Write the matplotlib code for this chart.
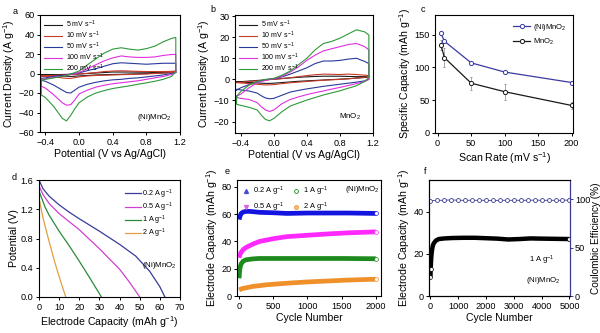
import numpy as np
import matplotlib
matplotlib.use("Agg")
import matplotlib.pyplot as plt
from matplotlib.lines import Line2D

plt.rcParams['font.family'] = ['Liberation Sans', 'DejaVu Sans']
plt.rcParams['mathtext.fontset'] = 'custom'
plt.rcParams['mathtext.rm'] = 'Liberation Sans'
plt.rcParams['mathtext.it'] = 'Liberation Sans:italic'
plt.rcParams['mathtext.default'] = 'regular'
plt.rcParams['axes.linewidth'] = 0.8

# ---------------- data ----------------
# cyclic voltammetry: potential grid and anodic / cathodic currents (A g-1)
cv_potential = [-0.45, -0.4, -0.3, -0.2, -0.15, -0.1, -0.05, 0.0, 0.1, 0.2,
                0.3, 0.4, 0.5, 0.6, 0.7, 0.8, 0.9, 1.0, 1.1, 1.15]
scan_labels = ['5 mV s$^{-1}$', '10 mV s$^{-1}$', '50 mV s$^{-1}$',
               '100 mV s$^{-1}$', '200 mV s$^{-1}$']

ni_anodic_5 = [-1.5, -1.4, -1.2, -1, -0.9, -0.8, -0.6, -0.5, 0, 0.5, 1, 1.5, 1.5, 1.5, 1.4, 1.3, 1.2, 1.2, 1.3, 1.5]
ni_cathodic_5 = [-1.5, -1.7, -2, -2.5, -2.8, -3, -2.8, -2.5, -2, -1.5, -1.2, -1, -0.8, -0.5, -0.3, -0.1, 0.2, 0.5, 0.8, 1]
ni_anodic_10 = [-2.5, -2.3, -2, -1.5, -1.2, -1, -0.8, -0.5, 0.2, 1, 2, 2.5, 2.8, 2.5, 2.2, 2, 2, 2, 2.2, 2.5]
ni_cathodic_10 = [-2.5, -2.8, -3.5, -4.5, -5, -5, -4.2, -3.5, -2.5, -2, -1.8, -1.5, -1.2, -1, -0.8, -0.5, 0, 0.5, 1, 1.5]
ni_anodic_50 = [-5, -4.5, -3, -2, -1.5, -0.5, 0, 0.5, 3, 5, 7.5, 10, 11, 10.5, 10, 9.5, 10, 10.5, 10.5, 10.5]
ni_cathodic_50 = [-7, -8, -12, -17, -19.5, -20, -17, -14, -11, -9, -7.5, -6.5, -6, -5, -4.5, -3.5, -2.5, -1.5, 0, 1]
ni_anodic_100 = [-6, -5.5, -4, -3, -2, -1, 0, 1, 5, 9, 13, 16, 18, 17, 16.5, 16.5, 17, 18.5, 19.5, 19.5]
ni_cathodic_100 = [-13, -15, -22, -30, -32.5, -32, -27, -21, -17, -14, -12, -10.5, -9.5, -8.5, -7.5, -6, -4.5, -3, -1, 1]
ni_anodic_200 = [-7, -6, -4.5, -3, -2, -0.5, 1, 2.5, 9, 15, 21, 25, 26.4, 25, 24, 25.5, 28, 32.5, 36, 37]
ni_cathodic_200 = [-22, -24.7, -34, -46, -48.6, -43, -36, -30, -24, -20, -17.5, -15.4, -14, -12.7, -11, -9.6, -8, -6, -3, 2]

mn_anodic_5 = [-1.2, -1.1, -0.8, -0.5, -0.4, -0.2, 0, 0.1, 0.4, 0.7, 1, 1.2, 1.4, 1.5, 1.5, 1.5, 1.4, 1.3, 1.3, 1.5]
mn_cathodic_5 = [-1.2, -1.3, -1.5, -1.7, -1.8, -1.9, -1.9, -1.8, -1.5, -1.2, -0.9, -0.7, -0.5, -0.3, -0.1, 0.1, 0.3, 0.6, 0.9, 1.2]
mn_anodic_10 = [-1.5, -1.4, -1, -0.7, -0.5, -0.3, -0.1, 0, 0.4, 0.8, 1.3, 1.8, 2.2, 2.5, 2.4, 2.3, 2.5, 2.3, 2, 1.8]
mn_cathodic_10 = [-1.5, -1.7, -2, -2.3, -2.5, -2.6, -2.6, -2.5, -2, -1.6, -1.3, -1, -0.7, -0.4, -0.2, 0, 0.3, 0.6, 1, 1.5]
mn_anodic_50 = [-5, -4, -2.5, -1, -0.6, -0.3, 0, 0.3, 1.2, 2.5, 4, 5.5, 7.5, 8.7, 8.7, 9, 9.6, 10, 8.5, 7.5]
mn_cathodic_50 = [-4.7, -5, -5.5, -6.5, -7.8, -8.8, -9.2, -9, -7.5, -6, -5.2, -4.5, -3.9, -3.3, -2.8, -2.3, -1.8, -1.3, -0.7, 0]
mn_anodic_100 = [-8, -7, -4, -1.5, -1, -0.5, 0, 0.3, 1.5, 3.5, 6, 9, 11.5, 13.5, 14.5, 15.5, 16.5, 17, 15.5, 14]
mn_cathodic_100 = [-8.5, -9, -9.5, -11, -13, -14.5, -15.2, -14.5, -11.5, -9.5, -8.3, -7.2, -6.3, -5.5, -4.6, -3.8, -2.9, -2, -1, 0]
mn_anodic_200 = [-8, -5.8, -2.7, -1, -0.5, 0, 0.3, 0.5, 2, 4, 7, 10, 14, 17, 18, 19.5, 21.5, 23.5, 22.5, 21]
mn_cathodic_200 = [-11.8, -12.3, -13.2, -14.5, -17, -19, -19.6, -18.5, -15.3, -12.6, -11.2, -9.8, -8.6, -7.4, -6.4, -5.4, -4.2, -3, -1, 1]

# specific capacity vs scan rate
scan_rate = [5, 10, 50, 100, 200]
cap_ni = [152, 140, 107, 93, 77]
cap_ni_err = [3, 3, 2, 2, 2]
cap_mn = [134, 115, 76, 63, 42]
cap_mn_err = [8, 15, 10, 12, 5]

# galvanostatic discharge curves
gcd_labels = ['0.2 A g$^{-1}$', '0.5 A g$^{-1}$', '1 A g$^{-1}$', '2 A g$^{-1}$']
dis_cap_02 = [0, 2, 5, 10, 15, 20, 30, 40, 48, 55, 60, 62.5]
dis_v_02 = [1.6, 1.48, 1.38, 1.26, 1.16, 1.07, 0.9, 0.72, 0.56, 0.35, 0.14, 0]
dis_cap_05 = [0, 2, 5, 10, 15, 20, 30, 40, 45, 50]
dis_v_05 = [1.52, 1.4, 1.28, 1.14, 1.03, 0.92, 0.66, 0.38, 0.2, 0]
dis_cap_1 = [0, 3, 5, 10, 15, 20, 25, 31]
dis_v_1 = [1.45, 1.23, 1.12, 0.9, 0.7, 0.49, 0.27, 0]
dis_cap_2 = [0, 2, 5, 8, 11, 13.3]
dis_v_2 = [1.35, 1.08, 0.76, 0.46, 0.19, 0]

# cycling at different current densities
cyc_02 = [1, 10, 30, 60, 100, 150, 200, 300, 500, 700, 1000, 1300, 1600, 2000]
ret_02 = [56, 58, 60.5, 61.5, 62, 62, 61.8, 61.3, 61, 60.5, 60.8, 60.8, 60.8, 60.5]
cyc_05 = [1, 10, 30, 60, 100, 200, 300, 500, 700, 1000, 1300, 1600, 2000]
ret_05 = [28, 30, 32, 34, 35.5, 38, 40, 42, 43.5, 44.5, 45.5, 46.3, 47]
cyc_1 = [1, 5, 15, 30, 60, 100, 200, 300, 500, 1000, 1500, 2000]
ret_1 = [13, 17, 21, 23.5, 25.5, 26.5, 27.2, 27.5, 27.5, 27.5, 27.5, 27.3]
cyc_2 = [1, 50, 100, 200, 400, 600, 800, 1000, 1300, 1600, 2000]
ret_2 = [4.5, 5.5, 6, 7, 8.2, 9, 9.7, 10.3, 11, 11.7, 12.3]

# long-term cycling at 1 A g-1
long_cyc = [1, 10, 30, 50, 80, 120, 200, 300, 500, 800, 1200, 1600, 2000, 2400, 2800, 3200, 3600, 4000, 4500, 5000]
long_cap = [9, 13, 18, 21, 23.5, 25, 26.3, 27, 27.3, 27.5, 27.6, 27.6, 27.4, 27.2, 26.8, 27.0, 27.3, 27.2, 27.1, 27]
ce_cyc = list(range(0, 5001, 250))
ce_val = [98.5, 99, 99, 99.5, 99, 99, 99, 99, 99, 98.8, 99, 99, 99, 99, 99, 99.2, 99, 99, 99, 99, 99.3]

# ---------------- figure ----------------
W, H = 600, 333
fig = plt.figure(figsize=(6, 3.33), dpi=100)


def box(l, t, r, b):
    return [l / W, 1 - b / H, (r - l) / W, (b - t) / H]


TICK = 6.6
LAB = 7.6
LEG = 5.2


def style(ax):
    ax.tick_params(direction='out', length=2.5, width=0.7, labelsize=TICK, pad=1.5)


cv_colors = ['#1a1a1a', '#c83a2a', '#2a3a9a', '#e030e0', '#2e9a3a']


def draw_cv(ax, anodic, cathodic):
    E = np.array(cv_potential)
    for a, c, col, lab in zip(anodic, cathodic, cv_colors, scan_labels):
        x = np.concatenate([E, E[::-1], E[:1]])
        y = np.concatenate([a, c[::-1], a[:1]])
        ax.plot(x, y, color=col, lw=0.8, label=lab)
    leg = ax.legend(loc='upper left', frameon=False, fontsize=LEG - 0.1, handlelength=2.6,
                    handletextpad=0.5, labelspacing=-0.05, borderaxespad=0.15,
                    bbox_to_anchor=(0.0, 1.0))
    return leg


# panel a
ax_a = fig.add_axes(box(40, 15, 180, 132))
draw_cv(ax_a,
        [ni_anodic_5, ni_anodic_10, ni_anodic_50, ni_anodic_100, ni_anodic_200],
        [ni_cathodic_5, ni_cathodic_10, ni_cathodic_50, ni_cathodic_100, ni_cathodic_200])
ax_a.set_xlim(-0.465, 1.2)
ax_a.set_ylim(-60, 60)
ax_a.set_xticks([-0.4, 0.0, 0.4, 0.8, 1.2])
ax_a.set_yticks(range(-60, 61, 20))
ax_a.set_xlabel('Potential (V vs Ag/AgCl)', fontsize=LAB, labelpad=2)
ax_a.set_ylabel('Current Density (A g$^{-1}$)', fontsize=LAB, labelpad=1)
ax_a.text(0.82, 0.12, '(Ni)MnO$_2$', transform=ax_a.transAxes, fontsize=LEG + 0.5,
          ha='center', va='center')
style(ax_a)

# panel b
ax_b = fig.add_axes(box(235, 15, 373, 133))
draw_cv(ax_b,
        [mn_anodic_5, mn_anodic_10, mn_anodic_50, mn_anodic_100, mn_anodic_200],
        [mn_cathodic_5, mn_cathodic_10, mn_cathodic_50, mn_cathodic_100, mn_cathodic_200])
ax_b.set_xlim(-0.469, 1.2)
ax_b.set_ylim(-25.4, 30.5)
ax_b.set_xticks([-0.4, 0.0, 0.4, 0.8, 1.2])
ax_b.set_yticks(range(-20, 31, 10))
ax_b.set_xlabel('Potential (V vs Ag/AgCl)', fontsize=LAB, labelpad=2)
ax_b.set_ylabel('Current Density (A g$^{-1}$)', fontsize=LAB, labelpad=1)
ax_b.text(0.83, 0.14, 'MnO$_2$', transform=ax_b.transAxes, fontsize=LEG + 0.5,
          ha='center', va='center')
style(ax_b)

# panel c
ax_c = fig.add_axes(box(435, 15, 573, 133))
ax_c.errorbar(scan_rate, cap_ni, yerr=cap_ni_err, color='#3a3aa0', ecolor='#9a9a9a',
              elinewidth=0.6, capsize=1.0, capthick=0.6, lw=0.9, marker='o', ms=3,
              mfc='white', mec='#3a3aa0', mew=0.7, label='(Ni)MnO$_2$')
ax_c.errorbar(scan_rate, cap_mn, yerr=cap_mn_err, color='#1a1a1a', ecolor='#9a9a9a',
              elinewidth=0.6, capsize=1.0, capthick=0.6, lw=0.9, marker='o', ms=3,
              mfc='white', mec='#1a1a1a', mew=0.7, label='MnO$_2$')
ax_c.set_xlim(-4, 202)
ax_c.set_ylim(0, 180)
ax_c.set_xticks(range(0, 201, 50))
ax_c.set_yticks([0, 50, 100, 150])
ax_c.set_xlabel('Scan Rate (mV s$^{-1}$)', fontsize=LAB, labelpad=2)
ax_c.set_ylabel('Specific Capacity (mAh g$^{-1}$)', fontsize=LAB, labelpad=1)
hc = [Line2D([], [], color='#3a3aa0', lw=0.9, marker='o', ms=3, mfc='white', mew=0.7),
      Line2D([], [], color='#1a1a1a', lw=0.9, marker='o', ms=3, mfc='white', mew=0.7)]
ax_c.legend(hc, ['(Ni)MnO$_2$', 'MnO$_2$'], loc='upper right', frameon=False,
            fontsize=LEG + 0.3, handlelength=2.2, handletextpad=0.3, labelspacing=0.5,
            borderaxespad=0.5)
style(ax_c)

# panel d
ax_d = fig.add_axes(box(39, 180, 180, 297))
gcd_colors = ['#3a3a9a', '#d040d0', '#2a8a3a', '#e0a040']
for cx, vy, col, lab in zip([dis_cap_02, dis_cap_05, dis_cap_1, dis_cap_2],
                            [dis_v_02, dis_v_05, dis_v_1, dis_v_2], gcd_colors, gcd_labels):
    ax_d.plot(cx, vy, color=col, lw=0.9, label=lab)
ax_d.set_xlim(0, 70)
ax_d.set_ylim(0, 1.6)
ax_d.set_xticks(range(0, 71, 10))
ax_d.set_yticks([0.0, 0.4, 0.8, 1.2, 1.6])
ax_d.set_yticklabels(['0.0', '0.4', '0.8', '1.2', '1.6'])
ax_d.set_xlabel('Electrode Capacity (mAh g$^{-1}$)', fontsize=LAB, labelpad=2)
ax_d.set_ylabel('Potential (V)', fontsize=LAB, labelpad=1)
ax_d.legend(loc='upper right', frameon=False, fontsize=LEG, handlelength=2.2,
            handletextpad=0.2, labelspacing=0.0, borderaxespad=0.6)
ax_d.text(0.85, 0.27, '(Ni)MnO$_2$', transform=ax_d.transAxes, fontsize=LEG + 0.5,
          ha='center', va='center')
style(ax_d)

# panel e
ax_e = fig.add_axes(box(237, 180, 381, 296))
e_series = [(cyc_02, ret_02, '#1414e0'),
            (cyc_05, ret_05, '#ff28ff'),
            (cyc_1, ret_1, '#1c8a1c'),
            (cyc_2, ret_2, '#f0902a')]
for cx, ry, col in e_series:
    ax_e.plot(cx, ry, color=col, lw=3.4, solid_capstyle='butt', solid_joinstyle='round')
    ax_e.plot(cx[-1:], ry[-1:], ls='none', marker='o', ms=2.8, mfc='white', mec=col, mew=0.5)
ax_e.set_xlim(-30, 2075)
ax_e.set_ylim(0, 85)
ax_e.set_xticks(range(0, 2001, 500))
ax_e.set_yticks(range(0, 81, 20))
ax_e.set_xlabel('Cycle Number', fontsize=LAB, labelpad=2)
ax_e.set_ylabel('Electrode Capacity (mAh g$^{-1}$)', fontsize=LAB, labelpad=1)
he = [Line2D([], [], ls='none', marker='^', ms=2.8, color='#4a4ad0', mfc='#4a4ad0'),
      Line2D([], [], ls='none', marker='v', ms=2.8, color='#e060e0', mfc='#e060e0'),
      Line2D([], [], ls='none', marker='o', ms=2.8, color='#1c8a1c', mfc='white', mew=0.6),
      Line2D([], [], ls='none', marker='o', ms=2.8, color='#f0902a', mfc='#f6c088', mew=0.6)]
ax_e.legend(he, gcd_labels, loc='upper left', ncol=2, frameon=False, fontsize=LEG + 0.2,
            handlelength=1.2, handletextpad=0.3, columnspacing=0.9, labelspacing=0.3,
            borderaxespad=0.25)
ax_e.text(0.87, 0.92, '(Ni)MnO$_2$', transform=ax_e.transAxes, fontsize=LEG + 0.5,
          ha='center', va='center')
style(ax_e)

# panel f
navy = '#3a3a90'
ax_f = fig.add_axes(box(429, 180, 570, 296))
ax_f.plot(long_cyc, long_cap, color='black', lw=3.2, solid_capstyle='butt',
          solid_joinstyle='round')
ax_f.plot([long_cyc[0], long_cyc[1], long_cyc[-1]], [long_cap[0], long_cap[1], long_cap[-1]],
          ls='none', marker='o', ms=2.8, mfc='white', mec='black', mew=0.5)
ax_f.set_xlim(-50, 5020)
ax_f.set_ylim(0, 55)
ax_f.set_xticks(range(0, 5001, 1000))
ax_f.set_yticks([0, 20, 40])
ax_f.set_xlabel('Cycle Number', fontsize=LAB, labelpad=2)
ax_f.set_ylabel('Electrode Capacity (mAh g$^{-1}$)', fontsize=LAB, labelpad=1)
ax_f.text(0.8, 0.31, '1 A g$^{-1}$', transform=ax_f.transAxes, fontsize=LEG + 0.3,
          ha='center', va='center')
ax_f.text(0.81, 0.13, '(Ni)MnO$_2$', transform=ax_f.transAxes, fontsize=LEG + 0.5,
          ha='center', va='center')
style(ax_f)
ax_f2 = ax_f.twinx()
ax_f2.plot(ce_cyc, ce_val, color=navy, lw=0.6, marker='o', ms=2.8, mfc='white', mec=navy, mew=0.6)
ax_f2.set_ylim(0, 120)
ax_f2.set_yticks([0, 50, 100])
ax_f2.set_ylabel('Coulombic Efficiency (%)', fontsize=LAB - 0.4, labelpad=0.5)
ax_f2.spines['right'].set_color(navy)
ax_f2.tick_params(axis='y', colors=navy, labelcolor='black', direction='out', length=2.5,
                  width=0.7, labelsize=TICK, pad=1.0)

# panel letters
for letter, (px, py) in zip('abcdef', [(15, 12), (213, 10), (423, 10), (14, 177),
                                      (227, 171), (425, 172)]):
    fig.text(px / W, 1 - py / H, letter, fontsize=6.5, ha='center', va='center')

fig.savefig('out.png', dpi=100)
